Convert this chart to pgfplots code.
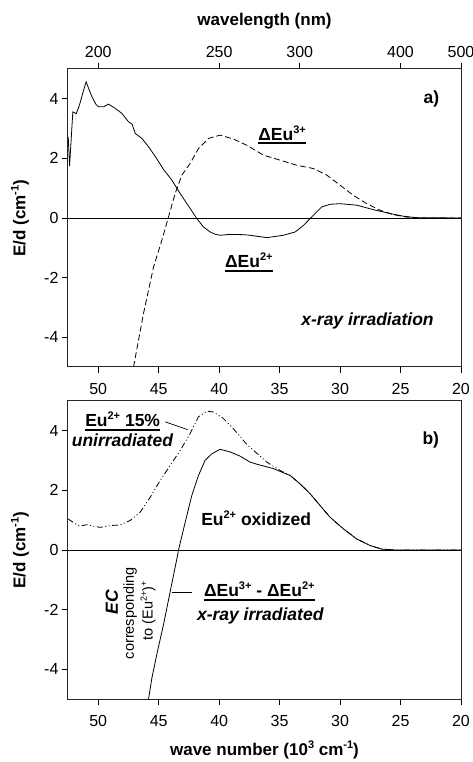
\documentclass[border=0pt]{standalone}
\usepackage{fontspec}
\setmainfont{Liberation Sans}
\usepackage{pgfplots}
\pgfplotsset{compat=1.18}

% raised superscript in the current text font
\newcommand\sups[2][11]{\raisebox{0.4em}{\fontsize{#1}{#1}\selectfont #2}}

\pgfplotsset{
  panel/.style={
    scale only axis, width=393pt, height=298pt,
    xmin=20, xmax=52.5, ymin=-5, ymax=5, x dir=reverse,
    xtick={20,25,...,50}, ytick={-4,-2,0,2,4},
    yticklabels={-4,-2,0,2,4},
    tick align=outside, xtick pos=left, ytick pos=left,
    major tick length=6pt,
    tick style={black, line width=0.8pt},
    axis line style={black!85, line width=1pt},
    /pgf/number format/assume math mode=true,
    tick label style={font=\fontsize{16}{19}\selectfont},
    label style={font=\bfseries\fontsize{17}{20}\selectfont},
    ylabel={E/d (cm\sups{-1})},
    ylabel style={at={(axis description cs:-0.122,0.5)}, anchor=center},
  },
  lower ticks/.style={x tick label style={yshift=-7pt}},
  curve/.style={black, line width=0.8pt, no markers},
}
\tikzset{
  lab/.style={font=\bfseries\fontsize{17.5}{21}\selectfont, inner sep=0pt},
  labit/.style={font=\bfseries\itshape\fontsize{17.5}{21}\selectfont, inner sep=0pt},
  small/.style={font=\fontsize{14.5}{17}\selectfont, inner sep=0pt},
  uline/.style={line width=1.6pt, black},
}

\begin{document}
\begin{tikzpicture}
\path[use as bounding box] (-68pt,-63pt) rectangle (405pt,699pt);

% ---------- panel a) : x-ray irradiation difference spectra ----------
\begin{axis}[panel, lower ticks, at={(0pt,332pt)}, anchor=south west]
  \addplot[black, line width=0.8pt] coordinates {(20,0) (52.5,0)};
  % Delta Eu2+
  \addplot[curve] coordinates {
    (52.48,2.72) (52.37,1.74) (52.10,3.56) (51.82,3.50) (51.55,3.79)
    (51.20,4.30) (51.00,4.57) (50.75,4.30) (50.52,4.07) (50.20,3.82)
    (49.98,3.73) (49.56,3.73) (49.15,3.82) (48.60,3.68) (48.04,3.51)
    (47.50,3.23) (47.20,3.15) (46.94,2.84) (46.39,2.67) (45.84,2.39)
    (45.29,2.07) (44.60,1.63) (43.91,1.27) (43.22,0.82) (42.40,0.32)
    (41.84,-0.02) (41.30,-0.30) (40.74,-0.47) (40.30,-0.55) (39.90,-0.58)
    (39.09,-0.55) (37.99,-0.56) (37.44,-0.58) (36.06,-0.66) (34.69,-0.58)
    (33.72,-0.47) (33.03,-0.25) (32.21,0.09) (31.52,0.37) (30.83,0.46)
    (30.00,0.48) (28.62,0.43) (27.25,0.28) (25.87,0.15) (24.77,0.06)
    (23.66,0.01) (20.00,0.00)
  };
  % Delta Eu3+
  \addplot[curve, dash pattern=on 6pt off 3pt] coordinates {
    (47.08,-5.00) (46.26,-3.21) (45.43,-1.65) (44.74,-0.75) (44.19,0.03)
    (43.64,0.82) (43.08,1.44) (42.40,1.83) (41.71,2.33) (40.88,2.67)
    (39.92,2.78) (38.82,2.65) (37.71,2.44) (36.34,2.11) (34.96,1.94)
    (33.58,1.77) (32.21,1.66) (31.10,1.44) (30.00,1.10) (28.90,0.76)
    (27.79,0.48) (26.69,0.26) (25.58,0.11) (24.49,0.03) (23.38,0.00)
    (20.00,0.00)
  };
  \node[lab, anchor=base] at (axis cs:22.45,3.85) {a)};
  \node[lab, anchor=base] (u3) at (axis cs:34.79,2.61) {ΔEu\sups{3+}};
  \draw[uline] ([yshift=-2.7pt]u3.base west) -- ([yshift=-2.7pt]u3.base east);
  \node[lab, anchor=base] (u2) at (axis cs:37.54,-1.67) {ΔEu\sups{2+}};
  \draw[uline] ([yshift=-3.2pt]u2.base west) -- ([yshift=-3.2pt]u2.base east);
  \node[labit, anchor=base] at (axis cs:27.73,-3.61) {x-ray irradiation};
\end{axis}

% wavelength scale along the top of panel a)
\begin{axis}[panel, at={(0pt,332pt)}, anchor=south west,
    xtick pos=right, xticklabel pos=right, ytick=\empty, ylabel={},
    x tick label style={yshift=2pt},
    xtick={50,40,33.3333,25,20}, xticklabels={200,250,300,400,500},
    title={wavelength (nm)},
    title style={at={(axis description cs:0.5,1.141)}, anchor=center,
      font=\bfseries\fontsize{17}{20}\selectfont}]
\end{axis}

% ---------- panel b) : oxidised vs. unirradiated ----------
\begin{axis}[panel, lower ticks, at={(0pt,0pt)}, anchor=south west,
    xlabel={wave number (10\sups{3} cm\sups{-1})},
    xlabel style={at={(axis description cs:0.5,-0.171)}, anchor=center}]
  \addplot[black, line width=0.8pt] coordinates {(20,0) (52.5,0)};
  % Eu2+ 15% unirradiated
  \addplot[curve, dash pattern=on 6pt off 2.5pt on 1pt off 2.5pt on 1pt off 2.5pt] coordinates {
    (52.48,1.04) (51.90,0.88) (51.49,0.80) (50.93,0.85) (50.39,0.80)
    (49.84,0.76) (49.01,0.82) (48.18,0.84) (47.36,0.99) (46.53,1.27)
    (45.70,1.77) (44.88,2.33) (44.05,2.84) (43.22,3.34) (42.40,3.91)
    (41.71,4.47) (41.02,4.66) (40.47,4.63) (39.64,4.41) (38.82,4.07)
    (37.71,3.54) (36.06,2.95) (34.96,2.67) (34.13,2.50) (33.31,2.22)
    (32.48,1.89) (31.65,1.49) (30.83,1.10) (29.73,0.71) (28.62,0.37)
    (27.52,0.15) (26.56,0.03) (25.50,0.00) (20.00,0.00)
  };
  % Delta Eu3+ - Delta Eu2+, x-ray irradiated
  \addplot[curve] coordinates {
    (45.84,-5.00) (45.56,-4.29) (45.10,-3.40) (44.60,-2.50) (44.05,-1.40)
    (43.50,-0.30) (43.36,0.00) (42.81,0.93) (42.26,1.83) (41.71,2.50)
    (41.16,3.01) (40.60,3.23) (39.92,3.38) (39.09,3.29) (38.27,3.15)
    (37.44,2.95) (36.89,2.88) (35.51,2.73) (34.13,2.50) (33.31,2.22)
    (32.48,1.89) (31.65,1.49) (30.83,1.10) (29.73,0.71) (28.62,0.37)
    (27.52,0.15) (26.56,0.03) (25.50,0.00) (20.00,0.00)
  };
  \node[lab, anchor=base] at (axis cs:22.5,3.54) {b)};
  \node[lab, anchor=base] (e15) at (axis cs:47.98,4.13) {Eu\sups{2+} 15\%};
  \draw[uline] ([yshift=-3pt]e15.base west) -- ([yshift=-3pt]e15.base east);
  \node[labit, anchor=base] at (axis cs:48.0,3.46) {unirradiated};
  \draw[black, line width=0.7pt] (axis cs:44.46,4.30) -- (axis cs:42.62,4.04);
  \node[lab, anchor=base] at (axis cs:36.94,0.82) {Eu\sups{2+} oxidized};
  \node[lab, anchor=base] (dd) at (axis cs:36.68,-1.57) {ΔEu\sups{3+} - ΔEu\sups{2+}};
  \draw[uline] ([yshift=-3.5pt]dd.base west) -- ([yshift=-3.5pt]dd.base east);
  \node[labit, anchor=base] at (axis cs:36.6,-2.35) {x-ray irradiated};
  \draw[black, line width=0.7pt] (axis cs:43.91,-1.41) -- (axis cs:42.26,-1.41);
  \node[labit, rotate=90] at (axis cs:48.87,-1.75) {EC};
  \node[small, rotate=90] at (axis cs:47.36,-2.12) {corresponding};
  \node[small, rotate=90] at (axis cs:45.87,-2.05) {to (Eu\sups[9]{2+})\sups[9]{+}};
\end{axis}
\end{tikzpicture}
\end{document}
